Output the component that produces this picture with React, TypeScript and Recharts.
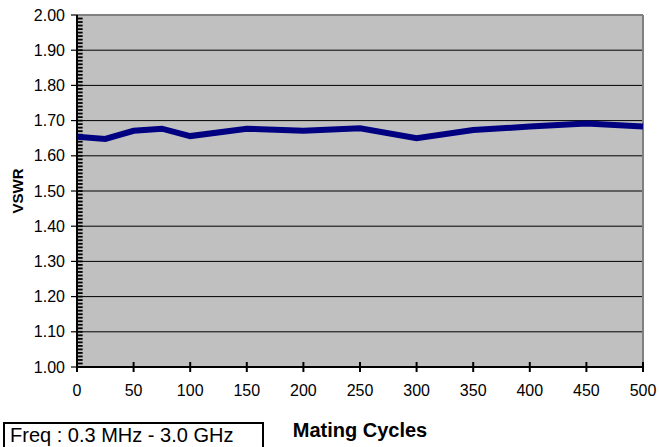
import React from 'react';
import {
  LineChart,
  Line,
  XAxis,
  YAxis,
  CartesianGrid,
  ReferenceLine,
} from 'recharts';

// mating cycles vs. measured VSWR
const cycles = [0, 25, 50, 75, 100, 150, 200, 250, 300, 350, 400, 450, 500];
const vswr = [1.654, 1.648, 1.671, 1.677, 1.656, 1.677, 1.671, 1.678, 1.65, 1.673, 1.683, 1.692, 1.683];

const xTicks = [0, 50, 100, 150, 200, 250, 300, 350, 400, 450, 500];
const yTicks = [1.0, 1.1, 1.2, 1.3, 1.4, 1.5, 1.6, 1.7, 1.8, 1.9, 2.0];
const minorStep = 0.01;
const minorTickLen = 5; // in cycles, a few px pointing into the plot

const data = cycles.map((c, i) => ({ cycles: c, vswr: vswr[i] }));

// inner ticks every 0.01 between 1.00 and 2.00
const innerTicks: number[] = [];
for (let i = 1; i < 100; i++) {
  innerTicks.push(Math.round((1 + i * minorStep) * 100) / 100);
}

const FONT = 'Arial, "Liberation Sans", sans-serif';

const YTick = (props: any) => {
  const { x, y, payload } = props;
  return (
    <g>
      <line x1={x - 6} x2={x} y1={y} y2={y} stroke="#000" strokeWidth={1.2} />
      <text
        x={x - 12}
        y={y}
        dy="0.35em"
        textAnchor="end"
        fontSize={16}
        fontFamily={FONT}
        fill="#000"
      >
        {payload.value.toFixed(2)}
      </text>
    </g>
  );
};

const XTick = (props: any) => {
  const { x, y, payload } = props;
  return (
    <g>
      <line x1={x} x2={x} y1={y - 5} y2={y + 5} stroke="#000" strokeWidth={2} />
      <text
        x={x}
        y={y + 29}
        textAnchor="middle"
        fontSize={16}
        fontFamily={FONT}
        fill="#000"
      >
        {payload.value}
      </text>
    </g>
  );
};

export default function App() {
  return (
    <div style={{ position: 'absolute', left: 0, top: 0, width: 659, height: 447, background: '#fff', overflow: 'hidden' }}>
      <LineChart
        width={659}
        height={447}
        data={data}
        margin={{ top: 15, right: 16, bottom: 0, left: 0 }}
      >
        <CartesianGrid
          vertical={false}
          horizontalValues={[1.1, 1.2, 1.3, 1.4, 1.5, 1.6, 1.7, 1.8, 1.9]}
          stroke="#000"
          strokeWidth={1}
          fill="#C0C0C0"
          fillOpacity={1}
        />
        <ReferenceLine y={2} stroke="#808080" strokeWidth={2} />
        <ReferenceLine x={500} stroke="#808080" strokeWidth={2} />
        {innerTicks.map((v) => (
          <ReferenceLine
            key={'m' + v}
            segment={[
              { x: 0, y: v },
              { x: minorTickLen, y: v },
            ]}
            stroke="#000"
            strokeWidth={1.8}
          />
        ))}
        <Line
          type="linear"
          dataKey="vswr"
          stroke="#000080"
          strokeWidth={6}
          dot={false}
          isAnimationActive={false}
        />
        <XAxis
          dataKey="cycles"
          type="number"
          domain={[0, 500]}
          ticks={xTicks}
          interval={0}
          height={80}
          tickSize={0}
          tickMargin={0}
          tickLine={false}
          axisLine={{ stroke: '#000', strokeWidth: 2 }}
          tick={<XTick />}
          label={{
            value: 'Mating Cycles',
            position: 'insideBottom',
            offset: 10,
            style: { fontSize: 20, fontWeight: 'bold', fontFamily: FONT, fill: '#000' },
          }}
        />
        <YAxis
          type="number"
          domain={[1, 2]}
          ticks={yTicks}
          interval={0}
          width={77}
          tickSize={0}
          tickMargin={0}
          tickLine={false}
          axisLine={{ stroke: '#000', strokeWidth: 2 }}
          tick={<YTick />}
          label={{
            content: ({ viewBox }: any) => {
              const cx = viewBox.x + 18;
              const cy = viewBox.y + viewBox.height / 2;
              return (
                <text
                  x={cx}
                  y={cy}
                  transform={`rotate(-90, ${cx}, ${cy})`}
                  textAnchor="middle"
                  dy="0.35em"
                  fontSize={15}
                  fontWeight="bold"
                  fontFamily={FONT}
                  fill="#000"
                >
                  VSWR
                </text>
              );
            },
          }}
        />
      </LineChart>
      <div
        style={{
          position: 'absolute',
          left: 3,
          top: 422,
          width: 252,
          height: 30,
          border: '2px solid #000',
          fontFamily: FONT,
          fontSize: 20,
          lineHeight: '22px',
          paddingLeft: 5,
          whiteSpace: 'nowrap',
          color: '#000',
          background: '#fff',
        }}
      >
        Freq : 0.3 MHz - 3.0 GHz
      </div>
    </div>
  );
}
